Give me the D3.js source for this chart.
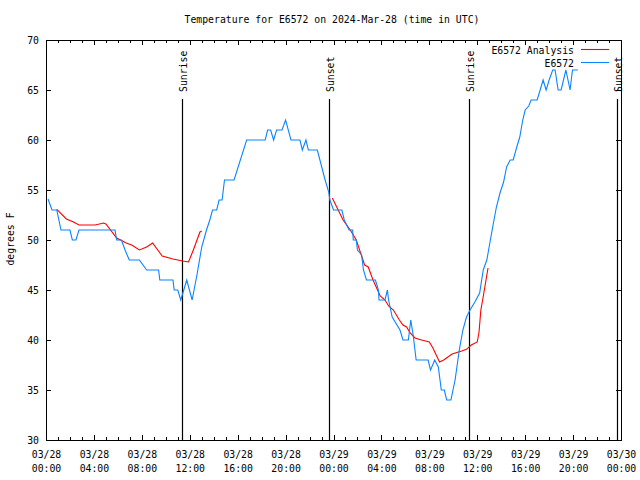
<!DOCTYPE html>
<html><head><meta charset="utf-8">
<script src="https://cdn.jsdelivr.net/npm/d3@7"></script>
<style>
body{margin:0;background:#fff}
text{font-family:"DejaVu Sans Mono","Liberation Mono",monospace;font-size:9.8px;fill:#000}
</style>
</head><body><svg id="c" width="640" height="480"></svg>
<script>
// ---- data (hours since 2024-03-28 00:00 UTC) ----
const obsHours = [0.17,0.5,0.9,1.25,2.0,2.2,2.5,2.75,5.76,5.9,6.3,6.6,6.95,7.8,8.4,9.4,9.5,10.6,10.7,11.0,11.25,11.75,12.2,12.6,13.0,13.4,13.7,13.9,14.25,14.45,14.7,14.9,15.7,16.75,18.3,18.5,18.75,19.0,19.25,19.7,20.0,20.45,21.2,21.4,21.7,21.9,22.65,23.3,23.6,23.7,24.0,24.7,24.9,25.3,25.6,25.65,25.9,26.0,26.35,26.5,26.75,27.5,27.75,27.8,28.3,28.5,28.6,28.9,29.55,29.8,30.25,30.45,30.65,30.9,31.9,32.1,32.45,32.75,33.0,33.25,33.45,33.8,34.15,34.5,34.8,35.1,35.4,35.8,36.2,36.5,36.8,37.05,37.35,37.6,37.9,38.2,38.45,38.75,39.0,39.3,39.55,39.8,40.0,40.3,40.5,41.0,41.25,41.5,41.75,42.0,42.3,42.5,42.75,43.0,43.4,43.75,43.95,44.4];
const obsTemps = [54.1,53,53,51,51,50,50,51,51,50,50,49,48,48,47,47,46,46,45,45,44,46,44,46.5,49.3,51,52.1,53,53,54,54,56,56,60,60,61,61,60,61,61,62,60,60,59,60,59,59,56,54.8,54,53,53,52,51,51,50,50,49,48.5,47,46,46,45,44,44,45,44,42.3,41,40,40,42,40.5,38,38,37,38,37.3,35,35,34,34,36,39,41,42.3,43,43.8,44.7,47,48,49.7,51.7,53.3,54.7,55.8,57.3,58,58,59.3,60.3,62,63,63.4,64,64,65,66,65,66,67,67,65,65,67,65,67,67];
const anaHours = [0.9,1.7,2.3,2.75,4.1,4.8,5.0,5.9,6.7,7.15,7.8,8.4,8.9,9.7,10.6,11.4,11.9,12.3,12.85,13.0,18.0,23.9,24.8,25.4,25.9,26.6,26.9,27.3,27.9,28.3,28.6,29.0,29.5,29.8,30.1,30.4,30.8,31.35,32.0,32.3,32.85,33.2,33.9,34.7,35.1,35.5,36.0,36.15,36.3,36.45,36.9];
const anaTemps = [53.07,52.1,51.8,51.5,51.5,51.7,51.6,50.2,49.7,49.5,49.0,49.3,49.7,48.4,48.1,47.9,47.8,49.0,50.8,50.9,null,54.2,52,51,50,47.5,47.3,46,44.4,44,43.4,43,42,41.5,41.3,40.7,40.2,40,39.8,39.2,37.8,38,38.6,38.9,39.07,39.5,39.8,40.8,43,44,47.2];
const sunLabels = ["Sunrise","Sunset","Sunrise","Sunset"];
const sunHours = [11.38,23.65,35.34,47.69];
const yTicks = [30,35,40,45,50,55,60,65,70];
const seriesNames = ["E6572 Analysis","E6572"];
const seriesColors = ["#ff0000","#0a84ff"];
const titleText = "Temperature for E6572 on 2024-Mar-28 (time in UTC)";
const yLabel = "degrees F";

// ---- chart ----
const svg = d3.select("#c");
const t0 = Date.UTC(2024,2,28);
const toDate = h => new Date(t0 + h*3600e3);
const L=46, R=621, T=40, B=440;
const x = d3.scaleUtc().domain([toDate(0), toDate(48)]).range([L,R]);
const y = d3.scaleLinear().domain([30,70]).range([B,T]);

const majorH = d3.range(0,49,4).map(toDate);
const minorH = d3.range(0,49,1).filter(h=>h%4).map(toDate);

function styleAxis(g){ g.select(".domain").remove(); g.selectAll("line").attr("shape-rendering","crispEdges").attr("stroke","#000"); }

const fmtD = d3.utcFormat("%m/%d"), fmtH = d3.utcFormat("%H:%M");
const gb = svg.append("g").attr("transform",`translate(0,${B})`)
  .call(d3.axisBottom(x).tickValues(majorH).tickSize(-5).tickFormat(fmtD));
gb.selectAll(".tick text").each(function(d){
  const s=d3.select(this); s.text(null).attr("y",0).attr("dy",null);
  s.append("tspan").attr("x",0).attr("y",18).text(fmtD(d));
  s.append("tspan").attr("x",0).attr("y",32).text(fmtH(d));
});
styleAxis(gb);
styleAxis(svg.append("g").attr("transform",`translate(0,${B})`).call(d3.axisBottom(x).tickValues(minorH).tickSize(-3).tickFormat("")));
styleAxis(svg.append("g").attr("transform",`translate(0,${T})`).call(d3.axisTop(x).tickValues(majorH).tickSize(-5).tickFormat("")));
styleAxis(svg.append("g").attr("transform",`translate(0,${T})`).call(d3.axisTop(x).tickValues(minorH).tickSize(-3).tickFormat("")));
const gl = svg.append("g").attr("transform",`translate(${L},0)`).call(d3.axisLeft(y).tickValues(yTicks).tickSize(-5).tickPadding(7).tickFormat(d3.format("d")));
styleAxis(gl);
styleAxis(svg.append("g").attr("transform",`translate(${R},0)`).call(d3.axisRight(y).tickValues(yTicks).tickSize(-5).tickFormat("")));
svg.selectAll(".tick text").attr("font-family",null).attr("font-size",null);

svg.append("rect").attr("x",L+0.5).attr("y",T+0.5).attr("width",R-L).attr("height",B-T)
  .attr("fill","none").attr("stroke","#000").attr("shape-rendering","crispEdges");

// sun lines
sunHours.forEach((h,i)=>{
  const xx = Math.round(x(toDate(h)))+0.5;
  svg.append("line").attr("x1",xx).attr("x2",xx).attr("y1",99).attr("y2",B)
    .attr("stroke","#000").attr("stroke-width",1.2);
  svg.append("text").attr("transform",`translate(${xx+4},92) rotate(-90)`)
    .attr("text-anchor","start").text(sunLabels[i]);
});

// series
const line = d3.line().defined(d=>d.t!=null).x(d=>x(toDate(d.h))).y(d=>y(d.t));
const ana = anaHours.map((h,i)=>({h,t:anaTemps[i]}));
const obs = obsHours.map((h,i)=>({h,t:obsTemps[i]}));
svg.append("path").datum(ana).attr("d",line).attr("fill","none").attr("stroke",seriesColors[0]).attr("stroke-width",1.1);
svg.append("path").datum(obs).attr("d",line).attr("fill","none").attr("stroke",seriesColors[1]).attr("stroke-width",1.1);

// legend
seriesNames.forEach((n,i)=>{
  const yy = 50 + i*13;
  svg.append("text").attr("x",574).attr("y",yy+3.5).attr("text-anchor","end").text(n);
  svg.append("line").attr("x1",581).attr("x2",609).attr("y1",yy-0.5).attr("y2",yy-0.5)
    .attr("stroke",seriesColors[i]).attr("stroke-width",1.1);
});

// title & y label
svg.append("text").attr("x",332).attr("y",23).attr("text-anchor","middle").text(titleText);
svg.append("text").attr("transform","translate(14,239) rotate(-90)").attr("text-anchor","middle").text(yLabel);
</script></body></html>
